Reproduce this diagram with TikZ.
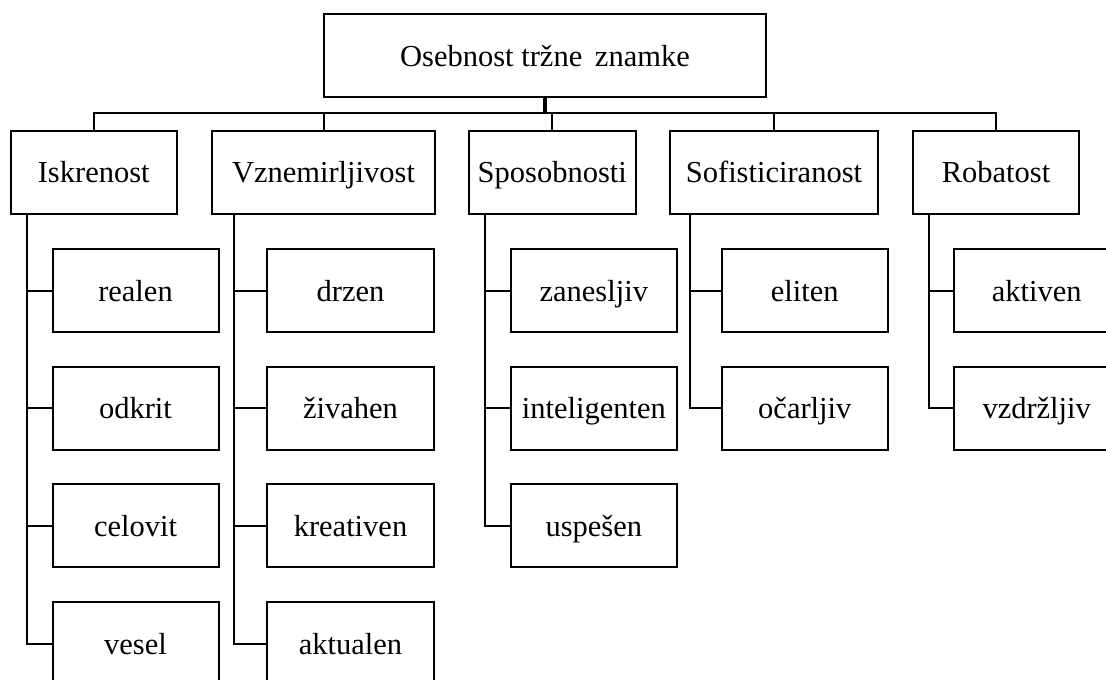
\documentclass[tikz,border=0pt]{standalone}
\usepackage{fontspec}
\setmainfont{Liberation Serif}
\begin{document}
\begin{tikzpicture}[x=1pt,y=-1pt,line width=2pt,
  box/.style={draw,rectangle,inner sep=0pt,minimum height=83pt,
    text height=24pt,text depth=3pt,
    font=\fontsize{30.5}{36}\selectfont},
  trunk/.style={line width=3.5pt}]
\useasboundingbox (0,0) rectangle (1106,680);
\clip (0,0) rectangle (1106,680);

% root
\node[box,minimum width=442pt] (root) at (545,55.5) {Osebnost tržne\, znamke};

% dimensions
\node[box,minimum width=166pt] (isk) at (93.75,172) {Iskrenost};
\node[box,minimum width=223pt] (vzn) at (323.5,172) {Vznemirljivost};
\node[box,minimum width=167pt] (spo) at (552.3,172) {Sposobnosti};
\node[box,minimum width=208pt] (sof) at (774,172) {Sofisticiranost};
\node[box,minimum width=166pt] (rob) at (996,172) {Robatost};

% traits
\node[box,minimum width=166pt] (isk1) at (135.5,290.5) {realen};
\node[box,minimum width=166pt] (isk2) at (135.5,408.2) {odkrit};
\node[box,minimum width=166pt] (isk3) at (135.5,525.9) {celovit};
\node[box,minimum width=166pt] (isk4) at (135.5,643.6) {vesel};

\node[box,minimum width=167pt] (vzn1) at (350.5,290.5) {drzen};
\node[box,minimum width=167pt] (vzn2) at (350.5,408.2) {živahen};
\node[box,minimum width=167pt] (vzn3) at (350.5,525.9) {kreativen};
\node[box,minimum width=167pt] (vzn4) at (350.5,643.6) {aktualen};

\node[box,minimum width=166pt] (spo1) at (593.8,290.5) {zanesljiv};
\node[box,minimum width=166pt] (spo2) at (593.8,408.2) {inteligenten};
\node[box,minimum width=166pt] (spo3) at (593.8,525.9) {uspešen};

\node[box,minimum width=166pt] (sof1) at (804.8,290.5) {eliten};
\node[box,minimum width=166pt] (sof2) at (804.8,408.2) {očarljiv};

\node[box,minimum width=166pt] (rob1) at (1036.7,290.5) {aktiven};
\node[box,minimum width=166pt] (rob2) at (1036.7,408.2) {vzdržljiv};

% root to bus
\coordinate (bus) at (545,113);
\draw[trunk] (root.south) -- (bus);
\draw (isk.north) |- (bus) -| (rob.north);
\draw (vzn.north) -- (vzn.north |- bus);
\draw (spo.north) -- (spo.north |- bus);
\draw (sof.north) -- (sof.north |- bus);

% spines
\coordinate (iskS) at ([xshift=17.3pt]isk.south west);
\coordinate (vznS) at ([xshift=22.6pt]vzn.south west);
\coordinate (spoS) at ([xshift=17pt]spo.south west);
\coordinate (sofS) at ([xshift=21pt]sof.south west);
\coordinate (robS) at ([xshift=17pt]rob.south west);

\draw (iskS) |- (isk4.west);
\foreach \k in {1,2,3} \draw (isk\k.west) -- (isk\k.west -| iskS);
\draw (vznS) |- (vzn4.west);
\foreach \k in {1,2,3} \draw (vzn\k.west) -- (vzn\k.west -| vznS);
\draw (spoS) |- (spo3.west);
\foreach \k in {1,2} \draw (spo\k.west) -- (spo\k.west -| spoS);
\draw (sofS) |- (sof2.west);
\draw (sof1.west) -- (sof1.west -| sofS);
\draw (robS) |- (rob2.west);
\draw (rob1.west) -- (rob1.west -| robS);
\end{tikzpicture}
\end{document}
